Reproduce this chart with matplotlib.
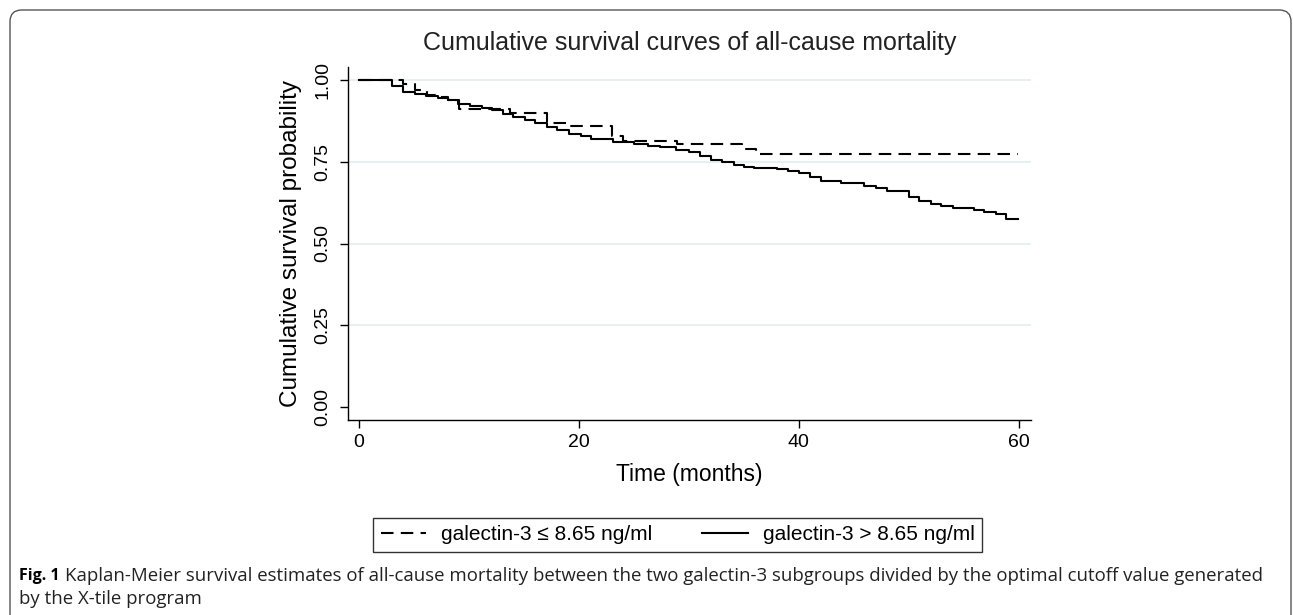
import matplotlib
matplotlib.use("Agg")
import matplotlib.pyplot as plt
from matplotlib.patches import FancyBboxPatch

# Kaplan-Meier step data (time in months, survival)
low_times = [0, 4.0, 5.1, 6.2, 7.2, 8.1, 9.1, 13.7, 17.1, 19.1, 23.0, 24.0, 28.9, 34.8, 36.1, 59.9]
low_surv = [1.000, 0.988, 0.971, 0.955, 0.948, 0.940, 0.913, 0.900, 0.870, 0.860, 0.829, 0.815, 0.804, 0.789, 0.774, 0.774]

high_times = [0, 3.0, 4.0, 5.1, 6.1, 7.2, 8.1, 9.0, 10.1, 11.2, 12.1, 13.1, 14.0, 15.1, 16.0,
              17.1, 18.0, 19.1, 20.2, 21.1, 23.1, 25.0, 26.3, 27.4, 28.8, 30.0, 31.0, 32.0,
              33.0, 34.1, 35.0, 35.9, 38.0, 39.0, 40.0, 41.0, 42.0, 43.8, 45.9, 47.0, 48.0,
              50.0, 50.9, 52.0, 52.9, 54.0, 55.9, 56.8, 57.9, 58.8, 59.9]
high_surv = [1.000, 0.982, 0.964, 0.959, 0.951, 0.946, 0.939, 0.929, 0.921, 0.914, 0.909, 0.897,
             0.888, 0.879, 0.869, 0.857, 0.847, 0.837, 0.828, 0.820, 0.812, 0.805, 0.800, 0.796,
             0.788, 0.779, 0.767, 0.757, 0.749, 0.742, 0.736, 0.731, 0.727, 0.722, 0.717, 0.705,
             0.691, 0.684, 0.677, 0.669, 0.661, 0.644, 0.629, 0.622, 0.616, 0.610, 0.604, 0.598,
             0.589, 0.575, 0.575]

x_ticks = [0, 20, 40, 60]
y_ticks = [0.00, 0.25, 0.50, 0.75, 1.00]
y_ticklabels = ["0.00", "0.25", "0.50", "0.75", "1.00"]

labels = ["galectin-3 \u2264 8.65 ng/ml", "galectin-3 > 8.65 ng/ml"]

plt.rcParams["font.family"] = ["Liberation Sans", "DejaVu Sans"]

W, H = 1293, 615
fig = plt.figure(figsize=(W / 100, H / 100), dpi=100)
ax = fig.add_axes([348 / W, 1 - 420 / H, (1031 - 348) / W, (420 - 67) / H])

# light grid lines like Stata's s2color scheme
for yv in y_ticks[1:]:
    ax.axhline(yv, color="#e6eef0", lw=1.3, zorder=0)

ax.step(low_times, low_surv, where="post", color="black", lw=1.5,
        linestyle=(0, (6, 3.5)), label=labels[0])
ax.step(high_times, high_surv, where="post", color="black", lw=1.5,
        label=labels[1])

ax.set_xlim(-1.0, 61.1)
ax.set_ylim(-0.041, 1.041)
ax.set_xticks(x_ticks)
ax.set_yticks(y_ticks)
ax.set_yticklabels(y_ticklabels, rotation=90, va="center")
ax.tick_params(axis="both", direction="out", length=6, width=1, labelsize=14, colors="black")
ax.tick_params(axis="x", pad=4)
ax.tick_params(axis="y", pad=6)
for side in ["top", "right"]:
    ax.spines[side].set_visible(False)
for side in ["left", "bottom"]:
    ax.spines[side].set_linewidth(1)

ax.set_xlabel("Time (months)", fontsize=16.5, labelpad=9)
ax.set_ylabel("Cumulative survival probability", fontsize=17.5, labelpad=9)
ax.set_title("Cumulative survival curves of all-cause mortality", fontsize=18, pad=12, color="#222222")

leg = fig.legend(loc="center", bbox_to_anchor=(677.5 / W, 1 - 535 / H), ncol=2,
                 fontsize=15, frameon=True, fancybox=False, edgecolor="black",
                 handlelength=2.2, columnspacing=2.4, borderpad=0.35, handletextpad=0.7)
leg.get_frame().set_linewidth(1.0)

# caption
cap_font = ["Open Sans", "DejaVu Sans"]
fig.text(19 / W, 1 - 576 / H, "Fig. 1", fontsize=11.5, fontweight="bold",
         family=cap_font, va="center", ha="left")
fig.text(65 / W, 1 - 576 / H,
         "Kaplan-Meier survival estimates of all-cause mortality between the two galectin-3 "
         "subgroups divided by the optimal cutoff value generated",
         fontsize=13.4, family=cap_font, va="center", ha="left", color="#222222")
fig.text(19 / W, 1 - 599 / H, "by the X-tile program", fontsize=13.4,
         family=cap_font, va="center", ha="left", color="#222222")

# rounded outer frame (bottom edge runs off the image)
frame = FancyBboxPatch((10 / W, -40 / H), (1291 - 10) / W, (605 + 40) / H,
                       boxstyle="round,pad=0,rounding_size=0.009",
                       transform=fig.transFigure, fill=False, edgecolor="#555555",
                       lw=1.0, mutation_aspect=W / H)
fig.patches.append(frame)

fig.savefig("out.png", dpi=100)
